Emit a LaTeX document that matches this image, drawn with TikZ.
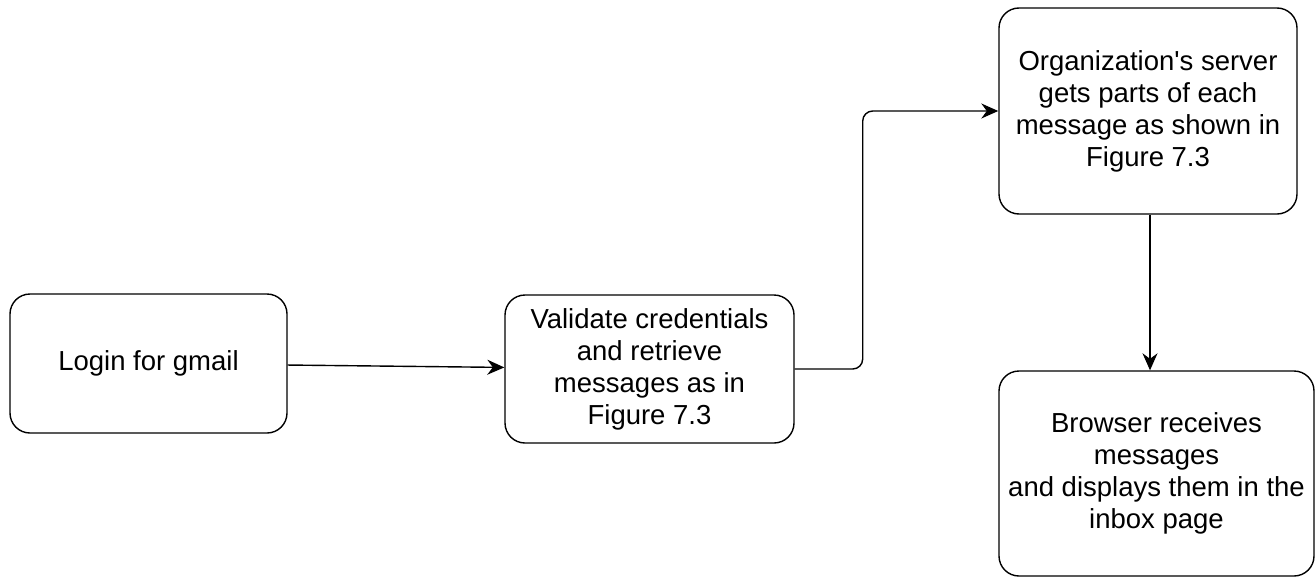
\documentclass[tikz,border=0pt]{standalone}
\usepackage{fontspec}
\setmainfont{Liberation Sans}
\usetikzlibrary{arrows.meta}
\usepackage{xcolor}

\begin{document}
\begin{tikzpicture}[>={Stealth[length=17pt,width=15pt]},x=1pt,y=-1pt,
  box/.style={draw,line width=1.4pt,rounded corners=20pt,align=center,
    font=\fontsize{27.5}{32}\selectfont,inner sep=0pt},
  flow/.style={->,line width=1.4pt}]
  \useasboundingbox (0,0) rectangle (1316,578);

  \node[box,minimum width=277pt,minimum height=139pt] (login) at (148.5,363.5) {Login for gmail};
  \node[box,minimum width=289pt,minimum height=148pt] (valid) at (649.5,369)
    {Validate credentials\\and retrieve\\messages as in\\Figure 7.3};
  \node[box,minimum width=298pt,minimum height=206pt] (server) at (1148,111)
    {Organization\textquotesingle s server\\gets parts of each\\message as shown in\\Figure 7.3};
  \node[box,minimum width=315pt,minimum height=205pt] (browser) at (1156.5,473.5)
    {Browser receives\\messages\\and displays them in the\\inbox page};

  \draw[flow] (login) -- (valid);
  \draw[flow,rounded corners=10pt] (valid.east) -- ++(68,0) |- (server.west);
  \draw[flow] (server.south -| 1150,0) -- (browser.north -| 1150,0);
\end{tikzpicture}
\end{document}
